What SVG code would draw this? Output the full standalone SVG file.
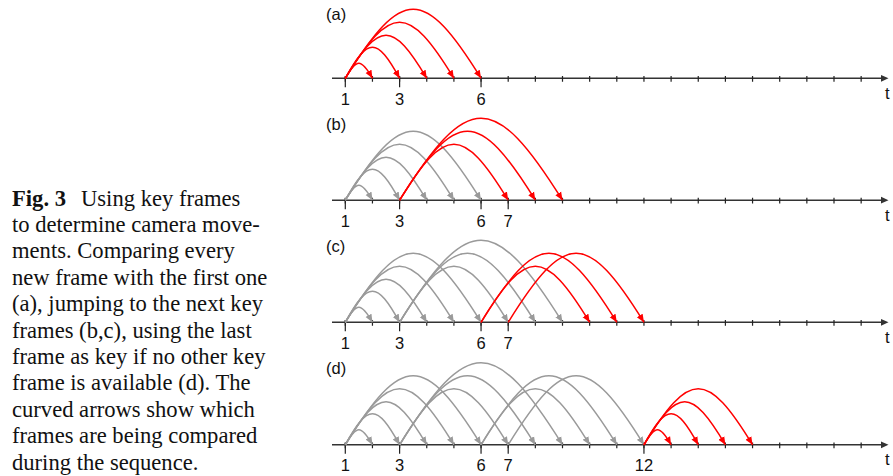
<svg xmlns="http://www.w3.org/2000/svg" width="893" height="476" viewBox="0 0 893 476">
<style>
.cap{font-family:"Liberation Serif","Times New Roman",serif;font-size:22.6px;fill:#111}
.b{font-weight:bold}
.lbl{font-family:"Liberation Sans",Arial,sans-serif;font-size:16.5px;fill:#111}
.num{font-family:"Liberation Sans",Arial,sans-serif;font-size:16.5px;fill:#111;text-anchor:middle}
.axis{stroke:#333;stroke-width:1.5;fill:none}
.tick{stroke:#222;stroke-width:1.2;fill:none}
.red{stroke:#ff0000;stroke-width:1.5;fill:none;marker-end:url(#ahR)}
.gray{stroke:#9a9a9a;stroke-width:1.5;fill:none;marker-end:url(#ahG)}
</style>
<defs>
<marker id="ahR" markerUnits="userSpaceOnUse" markerWidth="8" markerHeight="8" viewBox="0 0 8 8" refX="8" refY="4" orient="auto"><path d="M0,0.6 L8,4 L0,7.4 z" fill="#ff0000"/></marker>
<marker id="ahG" markerUnits="userSpaceOnUse" markerWidth="8" markerHeight="8" viewBox="0 0 8 8" refX="8" refY="4" orient="auto"><path d="M0,0.6 L8,4 L0,7.4 z" fill="#9a9a9a"/></marker>
<g id="axisbase">
<line class="axis" x1="332" y1="0" x2="883" y2="0"/>
<polygon points="881,-3.4 888.5,0 881,3.4" fill="#333"/>
<path class="tick" d="M345.3,-2.4V3.4M372.45,-2.4V3.4M399.6,-2.4V3.4M426.75,-2.4V3.4M453.9,-2.4V3.4M481.05,-2.4V3.4M508.2,-2.4V3.4M535.35,-2.4V3.4M562.5,-2.4V3.4M589.65,-2.4V3.4M616.8,-2.4V3.4M643.95,-2.4V3.4M671.1,-2.4V3.4M698.25,-2.4V3.4M725.4,-2.4V3.4M752.55,-2.4V3.4M779.7,-2.4V3.4M806.85,-2.4V3.4M834,-2.4V3.4M861.15,-2.4V3.4"/>
<text class="lbl" x="885" y="20.5">t</text>
</g>
</defs>

<g id="caption">
<text class="cap" x="12" y="205.5"><tspan class="b">Fig. 3</tspan><tspan x="81">Using key frames</tspan></text>
<text class="cap" x="12" y="231.9">to determine camera move-</text>
<text class="cap" x="12" y="258.3">ments. Comparing every</text>
<text class="cap" x="12" y="284.7">new frame with the first one</text>
<text class="cap" x="12" y="311.1">(a), jumping to the next key</text>
<text class="cap" x="12" y="337.5">frames (b,c), using the last</text>
<text class="cap" x="12" y="363.9">frame as key if no other key</text>
<text class="cap" x="12" y="390.3">frame is available (d). The</text>
<text class="cap" x="12" y="416.7">curved arrows show which</text>
<text class="cap" x="12" y="443.1">frames are being compared</text>
<text class="cap" x="12" y="469.5">during the sequence.</text>
</g>

<g id="panel-a">
<text class="lbl" x="326" y="20">(a)</text>
<g transform="translate(0,78.3)">
<use href="#axisbase"/>
<path class="tick" d="M345.3,-2V9M399.6,-2V9M481.05,-2V9"/>
<text class="num" x="345.3" y="26.5">1</text>
<text class="num" x="399.6" y="26.5">3</text>
<text class="num" x="481.05" y="26.5">6</text>
<g id="connectors-a">
<path class="red" d="M345.3,0 C356.7,-20 361.05,-20 372.45,0"/>
<path class="red" d="M345.3,0 C368.11,-41.33 376.79,-41.33 399.6,0"/>
<path class="red" d="M345.3,0 C379.51,-57.33 392.54,-57.33 426.75,0"/>
<path class="red" d="M345.3,0 C390.91,-74.67 408.29,-74.67 453.9,0"/>
<path class="red" d="M345.3,0 C402.32,-92 424.03,-92 481.05,0"/>
</g>
</g>
</g>

<g id="panel-b">
<text class="lbl" x="326" y="130">(b)</text>
<g transform="translate(0,200.2)">
<use href="#axisbase"/>
<path class="tick" d="M345.3,-2V9M399.6,-2V9M481.05,-2V9M508.2,-2V9"/>
<text class="num" x="345.3" y="26.5">1</text>
<text class="num" x="399.6" y="26.5">3</text>
<text class="num" x="481.05" y="26.5">6</text>
<text class="num" x="508.2" y="26.5">7</text>
<g id="connectors-b">
<path class="gray" d="M345.3,0 C356.7,-20 361.05,-20 372.45,0"/>
<path class="gray" d="M345.3,0 C368.11,-41.33 376.79,-41.33 399.6,0"/>
<path class="gray" d="M345.3,0 C379.51,-57.33 392.54,-57.33 426.75,0"/>
<path class="gray" d="M345.3,0 C390.91,-74.67 408.29,-74.67 453.9,0"/>
<path class="gray" d="M345.3,0 C402.32,-92 424.03,-92 481.05,0"/>
<path class="red" d="M399.6,0 C445.21,-74.67 462.59,-74.67 508.2,0"/>
<path class="red" d="M399.6,0 C456.62,-92 478.33,-92 535.35,0"/>
<path class="red" d="M399.6,0 C468.02,-109.33 494.08,-109.33 562.5,0"/>
</g>
</g>
</g>

<g id="panel-c">
<text class="lbl" x="326" y="252">(c)</text>
<g transform="translate(0,322.3)">
<use href="#axisbase"/>
<path class="tick" d="M345.3,-2V9M399.6,-2V9M481.05,-2V9M508.2,-2V9"/>
<text class="num" x="345.3" y="26.5">1</text>
<text class="num" x="399.6" y="26.5">3</text>
<text class="num" x="481.05" y="26.5">6</text>
<text class="num" x="508.2" y="26.5">7</text>
<g id="connectors-c">
<path class="gray" d="M345.3,0 C356.7,-20 361.05,-20 372.45,0"/>
<path class="gray" d="M345.3,0 C368.11,-41.33 376.79,-41.33 399.6,0"/>
<path class="gray" d="M345.3,0 C379.51,-57.33 392.54,-57.33 426.75,0"/>
<path class="gray" d="M345.3,0 C390.91,-74.67 408.29,-74.67 453.9,0"/>
<path class="gray" d="M345.3,0 C402.32,-92 424.03,-92 481.05,0"/>
<path class="gray" d="M399.6,0 C445.21,-74.67 462.59,-74.67 508.2,0"/>
<path class="gray" d="M399.6,0 C456.62,-92 478.33,-92 535.35,0"/>
<path class="gray" d="M399.6,0 C468.02,-109.33 494.08,-109.33 562.5,0"/>
<path class="red" d="M481.05,0 C526.66,-74.67 544.04,-74.67 589.65,0"/>
<path class="red" d="M481.05,0 C538.07,-92 559.78,-92 616.8,0"/>
<path class="red" d="M508.2,0 C565.22,-92 586.93,-92 643.95,0"/>
</g>
</g>
</g>

<g id="panel-d">
<text class="lbl" x="326" y="374">(d)</text>
<g transform="translate(0,444.8)">
<use href="#axisbase"/>
<path class="tick" d="M345.3,-2V9M399.6,-2V9M481.05,-2V9M508.2,-2V9M643.95,-2V9"/>
<text class="num" x="345.3" y="26.5">1</text>
<text class="num" x="399.6" y="26.5">3</text>
<text class="num" x="481.05" y="26.5">6</text>
<text class="num" x="508.2" y="26.5">7</text>
<text class="num" x="643.95" y="26.5">12</text>
<g id="connectors-d">
<path class="gray" d="M345.3,0 C356.7,-20 361.05,-20 372.45,0"/>
<path class="gray" d="M345.3,0 C368.11,-41.33 376.79,-41.33 399.6,0"/>
<path class="gray" d="M345.3,0 C379.51,-57.33 392.54,-57.33 426.75,0"/>
<path class="gray" d="M345.3,0 C390.91,-74.67 408.29,-74.67 453.9,0"/>
<path class="gray" d="M345.3,0 C402.32,-92 424.03,-92 481.05,0"/>
<path class="gray" d="M399.6,0 C445.21,-74.67 462.59,-74.67 508.2,0"/>
<path class="gray" d="M399.6,0 C456.62,-92 478.33,-92 535.35,0"/>
<path class="gray" d="M399.6,0 C468.02,-109.33 494.08,-109.33 562.5,0"/>
<path class="gray" d="M481.05,0 C526.66,-74.67 544.04,-74.67 589.65,0"/>
<path class="gray" d="M481.05,0 C538.07,-92 559.78,-92 616.8,0"/>
<path class="gray" d="M508.2,0 C565.22,-92 586.93,-92 643.95,0"/>
<path class="red" d="M643.95,0 C655.35,-20 659.7,-20 671.1,0"/>
<path class="red" d="M643.95,0 C666.76,-41.33 675.44,-41.33 698.25,0"/>
<path class="red" d="M643.95,0 C678.16,-57.33 691.19,-57.33 725.4,0"/>
<path class="red" d="M643.95,0 C689.56,-74.67 706.94,-74.67 752.55,0"/>
</g>
</g>
</g>
</svg>
